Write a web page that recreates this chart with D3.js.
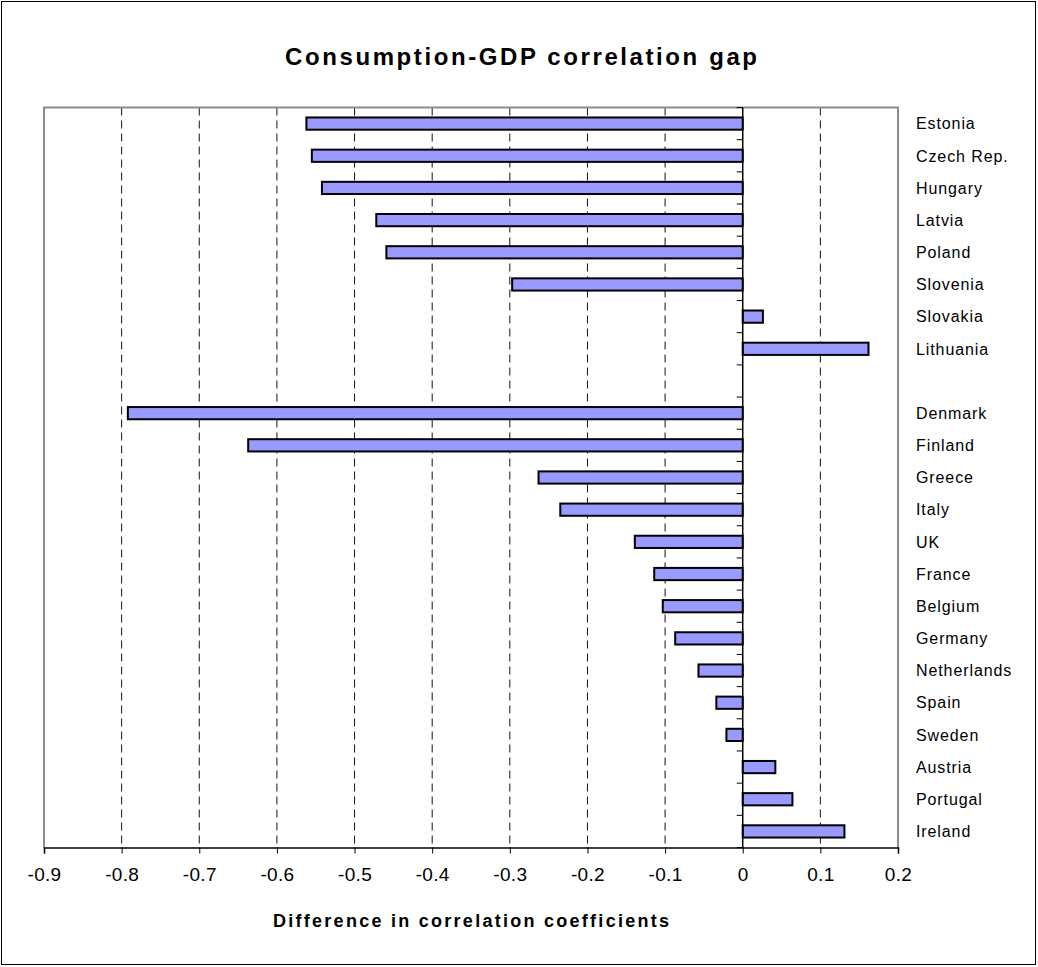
<!DOCTYPE html>
<html>
<head>
<meta charset="utf-8">
<script src="https://cdn.jsdelivr.net/npm/d3@7"></script>
<style>
  body { margin: 0; background: #fff; }
  svg { display: block; font-family: "Liberation Sans", Arial, sans-serif; }
</style>
</head>
<body>
<svg id="chart" width="1038" height="967"></svg>
<script>
// DATA
const countries = [
  "Estonia", "Czech Rep.", "Hungary", "Latvia", "Poland", "Slovenia", "Slovakia", "Lithuania",
  "",
  "Denmark", "Finland", "Greece", "Italy", "UK", "France", "Belgium", "Germany",
  "Netherlands", "Spain", "Sweden", "Austria", "Portugal", "Ireland"
];
const gaps = [
  -0.562, -0.555, -0.542, -0.472, -0.459, -0.297, 0.026, 0.162,
  null,
  -0.792, -0.637, -0.263, -0.235, -0.139, -0.114, -0.103, -0.087,
  -0.057, -0.034, -0.021, 0.042, 0.064, 0.131
];
const xTicks = [-0.9, -0.8, -0.7, -0.6, -0.5, -0.4, -0.3, -0.2, -0.1, 0, 0.1, 0.2];

const data = countries.map((c, i) => ({ key: "row" + i, label: c, value: gaps[i] }));

// CANVAS SETUP
const svg = d3.select("#chart");
const margin = { top: 107.5, right: 140, bottom: 119.5, left: 44 },
  width = 1038 - margin.left - margin.right,
  height = 967 - margin.top - margin.bottom;

// outer frame
svg.append("rect")
  .attr("x", 1.5).attr("y", 1.5)
  .attr("width", 1034).attr("height", 963)
  .attr("fill", "none").attr("stroke", "#000").attr("stroke-width", 1);

const g = svg.append("g").attr("transform", `translate(${margin.left},${margin.top})`);

// SCALES
const xScale = d3.scaleLinear().domain([-0.9, 0.2]).range([0, width]);
const yScale = d3.scaleBand().domain(data.map(d => d.key)).range([0, height]).padding(0);
const barH = yScale.bandwidth() * 0.38;

// gridlines (dashed)
g.append("g")
  .selectAll("line")
  .data(xTicks.filter(v => v !== 0 && v > -0.9 && v < 0.2))
  .join("line")
  .attr("x1", d => xScale(d)).attr("x2", d => xScale(d))
  .attr("y1", 0).attr("y2", height)
  .attr("stroke", "#111").attr("stroke-width", 1)
  .attr("stroke-dasharray", "8,5");

// plot border (top, left, right)
g.append("path")
  .attr("d", `M0,${height}V0H${width}V${height}`)
  .attr("fill", "none").attr("stroke", "#8c8c8c").attr("stroke-width", 2);

// BARS
g.append("g")
  .selectAll("rect")
  .data(data.filter(d => d.value !== null))
  .join("rect")
  .attr("x", d => xScale(Math.min(0, d.value)))
  .attr("width", d => Math.abs(xScale(d.value) - xScale(0)))
  .attr("y", d => yScale(d.key) + (yScale.bandwidth() - barH) / 2)
  .attr("height", barH)
  .attr("fill", "#9999ff")
  .attr("stroke", "#000").attr("stroke-width", 2);

// category axis at zero
const x0 = xScale(0);
g.append("line")
  .attr("x1", x0).attr("x2", x0).attr("y1", 0).attr("y2", height)
  .attr("stroke", "#000").attr("stroke-width", 1.5);
g.append("g")
  .selectAll("line")
  .data(d3.range(data.length + 1))
  .join("line")
  .attr("x1", x0 - 6).attr("x2", x0)
  .attr("y1", i => i * yScale.step()).attr("y2", i => i * yScale.step())
  .attr("stroke", "#000").attr("stroke-width", 1);

// category labels on the right
g.append("g")
  .selectAll("text")
  .data(data)
  .join("text")
  .attr("x", width + 18)
  .attr("y", d => yScale(d.key) + yScale.bandwidth() / 2)
  .attr("dy", "0.36em")
  .attr("font-size", 16)
  .attr("letter-spacing", 0.9)
  .attr("fill", "#000")
  .text(d => d.label);

// X AXIS
const gx = g.append("g").attr("transform", `translate(0,${height})`);
gx.call(
  d3.axisBottom(xScale)
    .tickValues(xTicks)
    .tickSize(6)
    .tickPadding(14)
    .tickFormat(d => d === 0 ? "0" : d3.format(".1f")(d).replace("\u2212", "-"))
);
gx.select(".domain").attr("stroke", "#000").attr("stroke-width", 1.5);
gx.selectAll(".tick line").attr("stroke", "#000");
gx.selectAll("text")
  .attr("font-size", 19)
  .attr("font-family", "Liberation Sans, Arial, sans-serif")
  .attr("letter-spacing", 0.3)
  .attr("fill", "#000");

// TITLES
svg.append("text")
  .attr("x", 521).attr("y", 65)
  .attr("text-anchor", "middle")
  .attr("font-size", 24).attr("font-weight", "bold")
  .attr("textLength", 472).attr("lengthAdjust", "spacing")
  .text("Consumption-GDP correlation gap");

svg.append("text")
  .attr("x", margin.left + width / 2).attr("y", 927)
  .attr("text-anchor", "middle")
  .attr("font-size", 18).attr("font-weight", "bold")
  .attr("textLength", 396).attr("lengthAdjust", "spacing")
  .text("Difference in correlation coefficients");
</script>
</body>
</html>
